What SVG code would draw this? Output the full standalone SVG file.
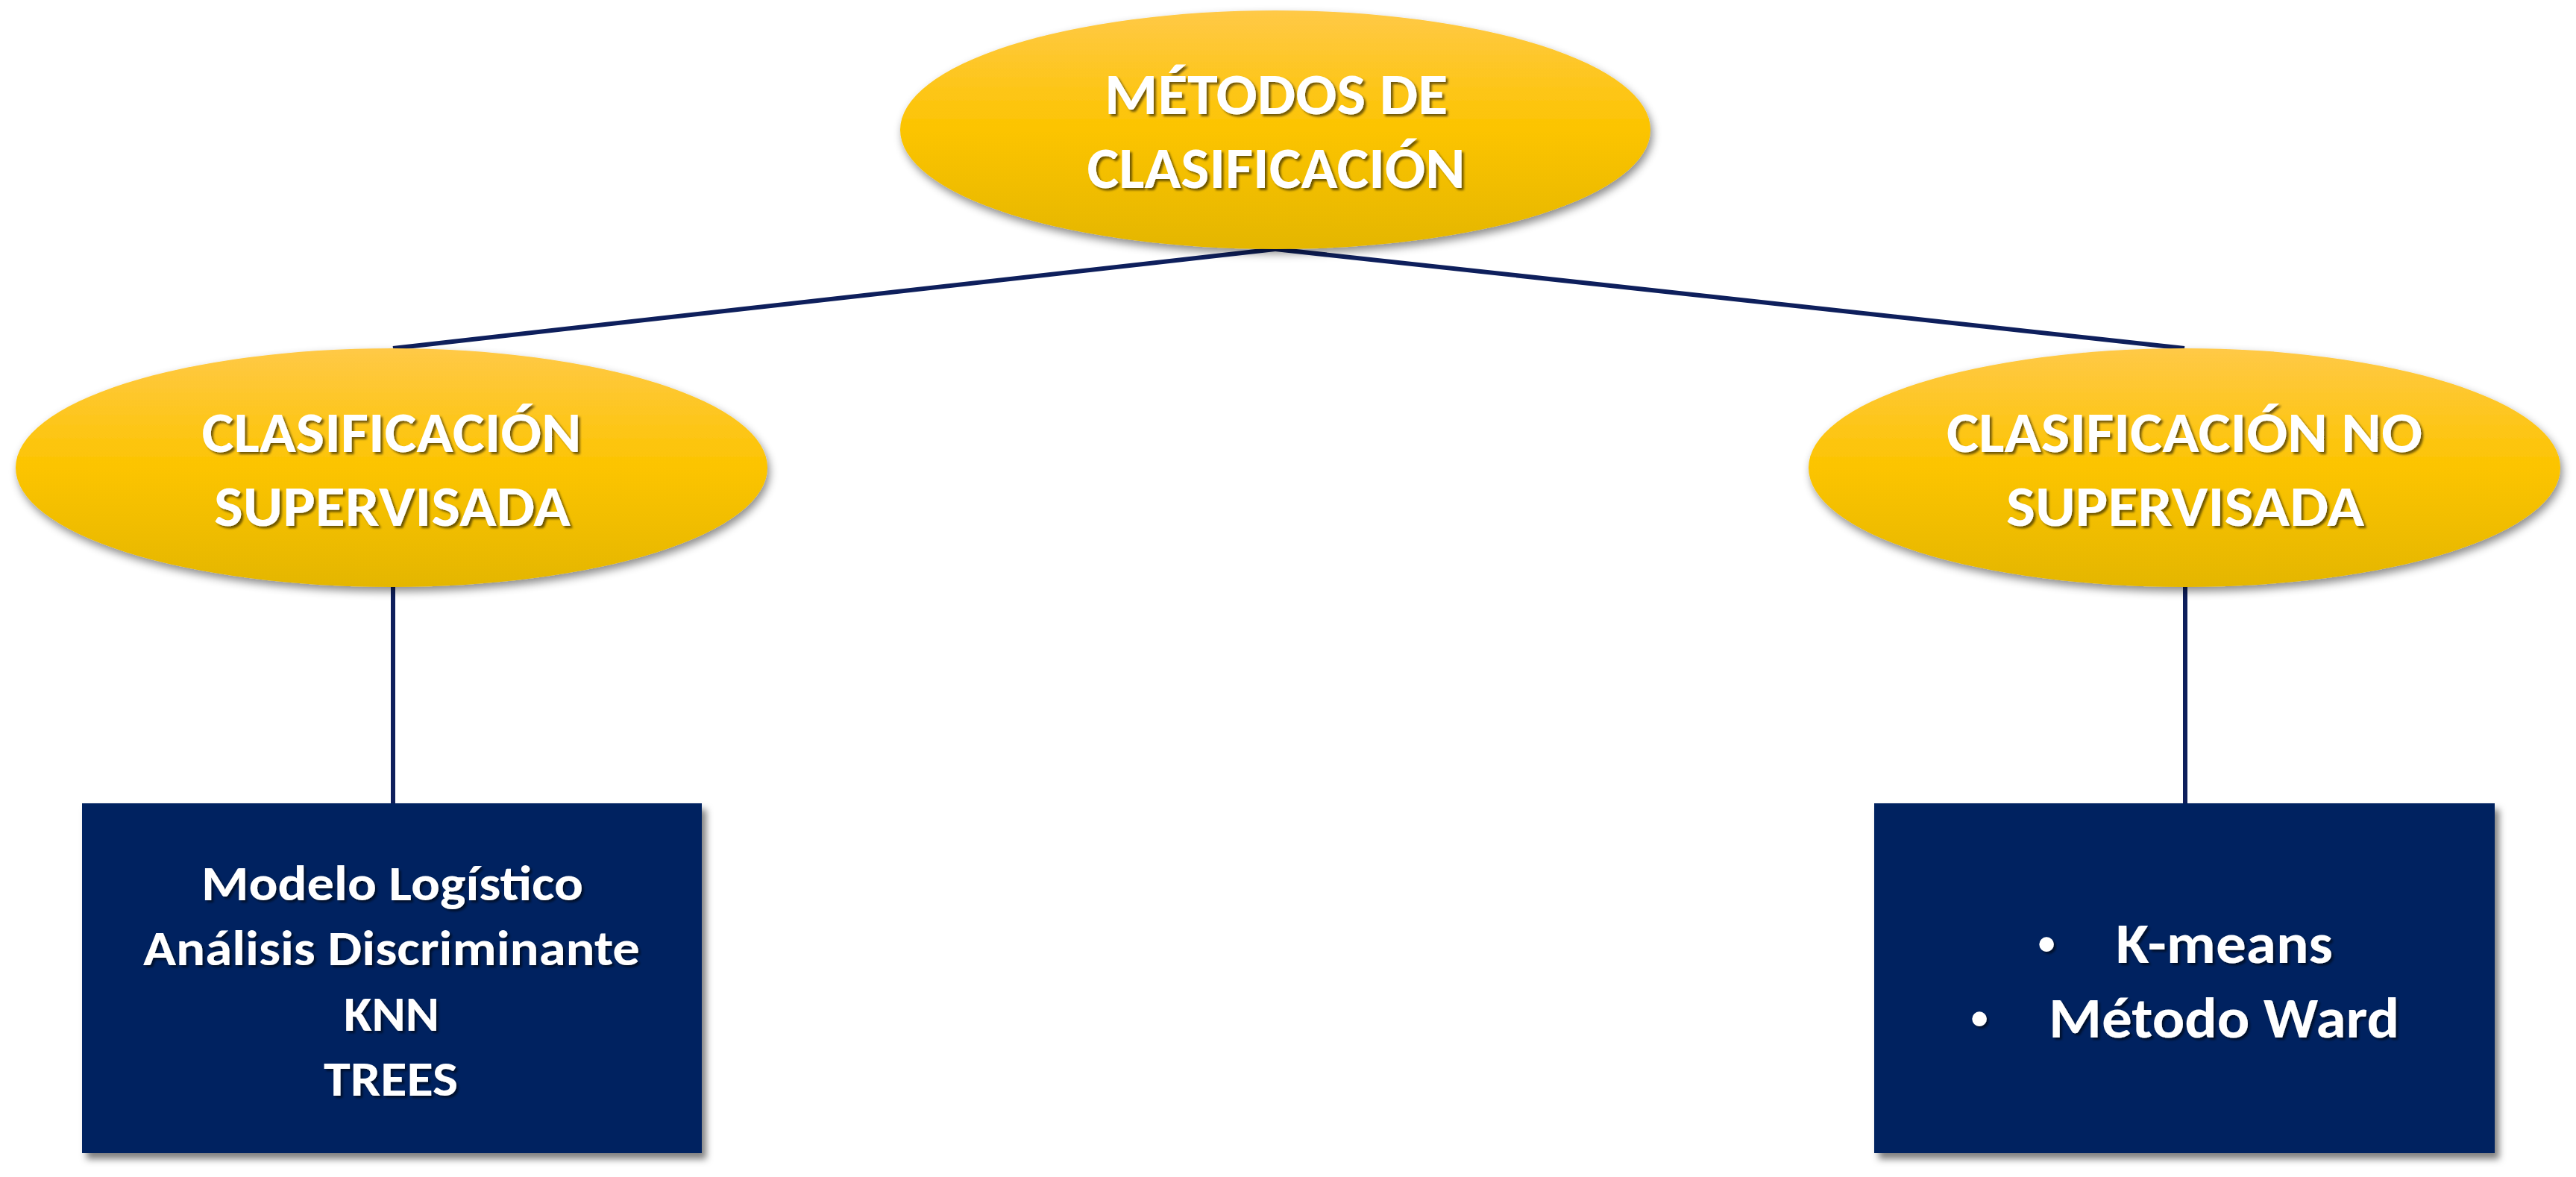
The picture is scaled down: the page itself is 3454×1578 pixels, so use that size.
<svg xmlns="http://www.w3.org/2000/svg" width="3454" height="1578" viewBox="0 0 3454 1578">
<defs>
  <linearGradient id="gold" x1="0" y1="0" x2="0" y2="1">
    <stop offset="0" stop-color="#FFC947"/>
    <stop offset="0.5" stop-color="#FCC400"/>
    <stop offset="1" stop-color="#E4B600"/>
  </linearGradient>
  <filter id="shEll" x="-10%" y="-10%" width="120%" height="130%">
    <feDropShadow dx="3" dy="6" stdDeviation="6" flood-color="#000" flood-opacity="0.45"/>
  </filter>
  <filter id="shRect" x="-5%" y="-5%" width="115%" height="115%">
    <feDropShadow dx="6" dy="8" stdDeviation="5" flood-color="#000" flood-opacity="0.5"/>
  </filter>
  <filter id="shText" x="-5%" y="-20%" width="110%" height="140%">
    <feDropShadow dx="3" dy="3" stdDeviation="1.5" flood-color="#000" flood-opacity="0.55"/>
  </filter>
</defs>
<style>
  .ell { fill: url(#gold); filter: url(#shEll); }
  .box { fill: #002060; filter: url(#shRect); }
  .conn { stroke: #0E1F5C; stroke-width: 6; fill: none; }
  .t { font-family: Carlito, Calibri, Lato, "Liberation Sans", sans-serif; font-weight: bold; fill: #FFFFFF; filter: url(#shText); }
  .big { font-size: 78px; }
  .mid { font-size: 76px; }
  .sm { font-size: 67px; }
  .c { text-anchor: middle; }
  .bul { font-family: "Liberation Sans", sans-serif; font-size: 72px; fill: #FFFFFF; text-anchor: middle; filter: url(#shText); }
</style>
<rect width="3454" height="1578" fill="#FFFFFF"/>
<g id="connectors">
  <path class="conn" d="M1710 334 L527 467"/>
  <path class="conn" d="M1710 334 L2929 467"/>
  <path class="conn" d="M527 787 L527 1077"/>
  <path class="conn" d="M2930 787 L2930 1077"/>
</g>
<g id="node-metodos">
  <ellipse class="ell" cx="1710" cy="174" rx="503" ry="160"/>
  <text class="t big c" x="1711" y="153" textLength="460" lengthAdjust="spacingAndGlyphs">MÉTODOS DE</text>
  <text class="t big c" x="1711" y="252" textLength="507" lengthAdjust="spacingAndGlyphs">CLASIFICACIÓN</text>
</g>
<g id="node-supervisada">
  <ellipse class="ell" cx="525" cy="627" rx="504" ry="160"/>
  <text class="t mid c" x="525" y="606" textLength="509" lengthAdjust="spacingAndGlyphs">CLASIFICACIÓN</text>
  <text class="t mid c" x="526" y="705" textLength="478" lengthAdjust="spacingAndGlyphs">SUPERVISADA</text>
</g>
<g id="node-no-supervisada">
  <ellipse class="ell" cx="2929" cy="627" rx="504" ry="160"/>
  <text class="t mid c" x="2929" y="606" textLength="638" lengthAdjust="spacingAndGlyphs">CLASIFICACIÓN NO</text>
  <text class="t mid c" x="2930" y="705" textLength="480" lengthAdjust="spacingAndGlyphs">SUPERVISADA</text>
</g>
<g id="node-metodos-supervisados">
  <rect class="box" x="110" y="1077" width="831" height="469"/>
  <text class="t sm c" x="526" y="1207" textLength="512" lengthAdjust="spacingAndGlyphs">Modelo Logístico</text>
  <text class="t sm c" x="525" y="1294" textLength="666" lengthAdjust="spacingAndGlyphs">Análisis Discriminante</text>
  <text class="t sm c" x="525" y="1382" textLength="128" lengthAdjust="spacingAndGlyphs">KNN</text>
  <text class="t sm c" x="524" y="1469" textLength="180" lengthAdjust="spacingAndGlyphs">TREES</text>
</g>
<g id="node-metodos-no-supervisados">
  <rect class="box" x="2513" y="1077" width="832" height="469"/>
  <text class="bul" x="2744" y="1290">•</text>
  <text class="t mid" x="2837" y="1291" textLength="291" lengthAdjust="spacingAndGlyphs">K-means</text>
  <text class="bul" x="2654" y="1390">•</text>
  <text class="t mid" x="2747" y="1391" textLength="470" lengthAdjust="spacingAndGlyphs">Método Ward</text>
</g>
</svg>
